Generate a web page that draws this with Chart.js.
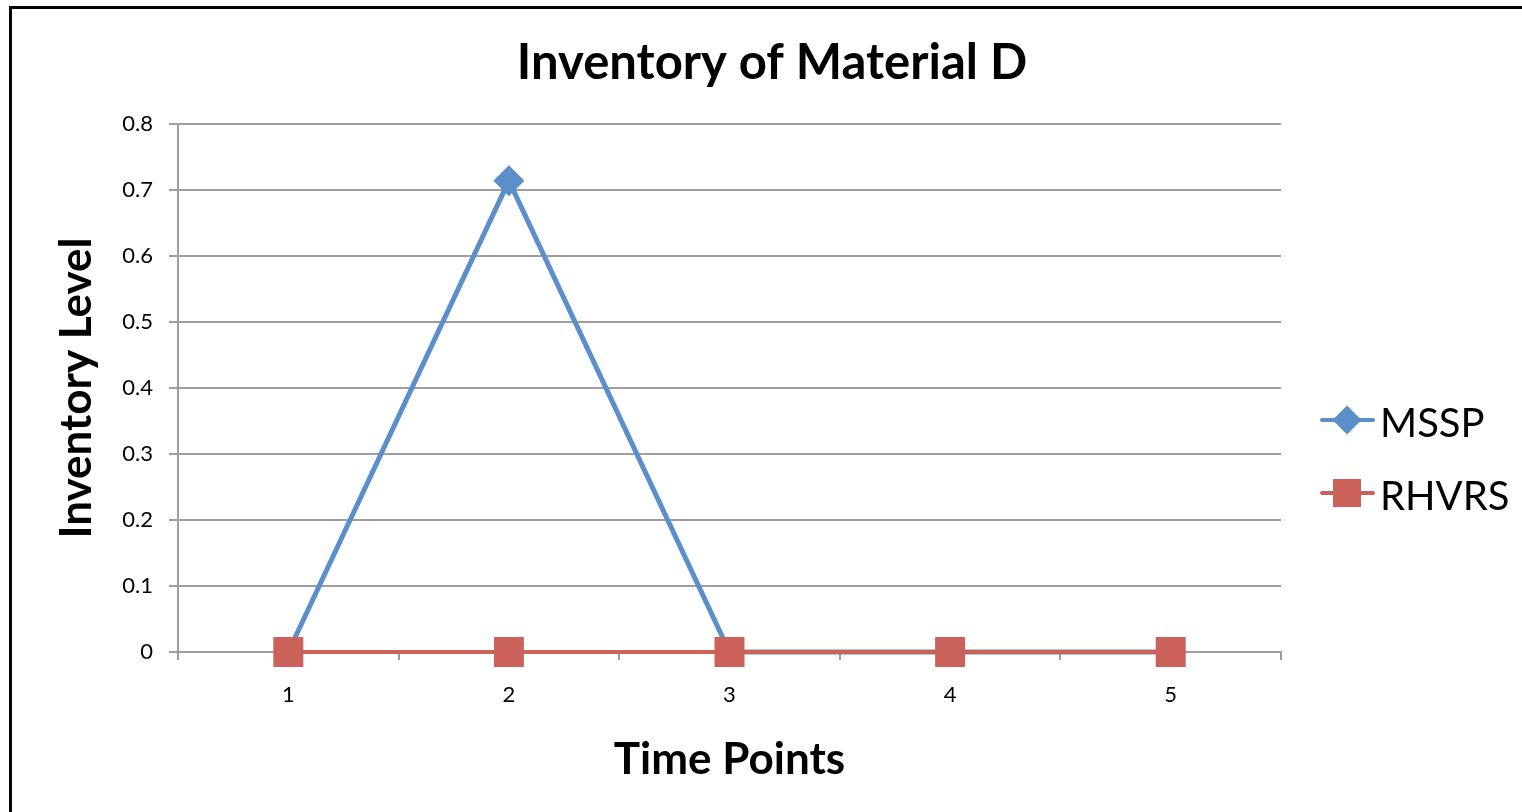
<!DOCTYPE html>
<html>
<head>
<meta charset="utf-8">
<title>Inventory of Material D</title>
<script src="https://cdn.jsdelivr.net/npm/chart.js@4.4.1/dist/chart.umd.min.js"></script>
<style>
  html, body { margin: 0; padding: 0; background: #fff; overflow: hidden; }
  #frame { position: absolute; left: 9px; top: 6px; width: 1600px; height: 900px;
           border-left: 3px solid #000; border-top: 3px solid #000; }
  #wrap { position: absolute; left: 0; top: 0; width: 1522px; height: 812px; }
</style>
</head>
<body>
<div id="frame"></div>
<div id="wrap"><canvas id="chart" width="1522" height="812"></canvas></div>
<script>
// ---- Chart data ----
const timePoints = ['1', '2', '3', '4', '5'];
const msspValues = [0, 0.714, 0, 0, 0];
const rhvrsValues = [0, 0, 0, 0, 0];
const yTickLabels = ['0', '0.1', '0.2', '0.3', '0.4', '0.5', '0.6', '0.7', '0.8'];

// ---- Look ----
const FONT = 'Lato, "Open Sans", sans-serif';
const blue = '#5B8FC9';
const red = '#CB625A';
const gridGray = '#9E9E9E';

// ---- Layout targets (pixels) ----
const plotLeft = 178;
const plotRight = 1281;
const plotBottom = 652;
const titleShift = 22;      // title sits a bit right of the canvas centre
const yTitleCenter = 77;
const axisTitleSize = 44;
const titleSize = 49;
let padRight = 0;
let padLeft = padRight + titleShift;

// Legend icon: line with marker through it, drawn on a small canvas
function makeLegendIcon(color, shape) {
  const c = document.createElement('canvas');
  c.width = 100; c.height = 40;
  const g = c.getContext('2d');
  const cx = 60, cy = 16;
  g.strokeStyle = color;
  g.lineWidth = 4;
  g.lineCap = 'round';
  g.beginPath(); g.moveTo(cx - 25, cy); g.lineTo(cx + 26, cy); g.stroke();
  g.fillStyle = color;
  if (shape === 'diamond') {
    g.beginPath();
    g.moveTo(cx, cy - 14.5); g.lineTo(cx + 14.5, cy);
    g.lineTo(cx, cy + 14.5); g.lineTo(cx - 14.5, cy);
    g.closePath(); g.fill();
  } else {
    g.fillRect(cx - 14, cy - 14, 28, 28);
  }
  return c;
}
const legendIcons = [makeLegendIcon(blue, 'diamond'), makeLegendIcon(red, 'square')];

const ctx = document.getElementById('chart').getContext('2d');
const chart = new Chart(ctx, {
  type: 'line',
  data: {
    labels: timePoints,
    datasets: [{
      label: 'MSSP',
      data: msspValues,
      borderColor: blue,
      backgroundColor: blue,
      borderWidth: 5,
      pointStyle: 'rectRot',
      pointRadius: 15.5,
      pointBackgroundColor: blue,
      pointBorderWidth: 0,
      tension: 0,
      clip: false,
      order: 1
    }, {
      label: 'RHVRS',
      data: rhvrsValues,
      borderColor: red,
      backgroundColor: red,
      borderWidth: 4,
      pointStyle: 'rect',
      pointRadius: 21.2,
      pointBackgroundColor: red,
      pointBorderWidth: 0,
      tension: 0,
      clip: false,
      order: 0   // drawn on top, like the reference
    }]
  },
  options: {
    responsive: false,
    devicePixelRatio: 1,
    animation: false,
    events: [],
    layout: { padding: { left: padLeft, right: padRight, top: 0, bottom: 0 } },
    plugins: {
      title: {
        display: true,
        text: 'Inventory of Material D',
        color: '#000',
        font: { family: FONT, size: titleSize, weight: 'bold' },
        padding: { top: 63 - titleSize * 0.6, bottom: 124 - 63 - titleSize * 0.6 }
      },
      legend: {
        position: 'right',
        maxWidth: 241,
        title: { display: true, text: '', font: { size: 10, lineHeight: 1 }, padding: { top: 99, bottom: 0 } },
        labels: {
          usePointStyle: true,
          pointStyleWidth: 46,
          padding: 33,
          color: '#000',
          font: { family: FONT, size: 40 },
          sort: function(a, b) { return a.datasetIndex - b.datasetIndex; },
          generateLabels: function(chart) {
            const items = Chart.defaults.plugins.legend.labels.generateLabels(chart);
            items.forEach(function(item) { item.pointStyle = legendIcons[item.datasetIndex]; });
            return items;
          }
        }
      },
      tooltip: { enabled: false }
    },
    scales: {
      x: {
        type: 'category',
        offset: true,
        grid: { display: true, drawOnChartArea: false, offset: true, color: gridGray, lineWidth: 2, tickLength: 8 },
        border: { display: true, color: gridGray, width: 2 },
        ticks: { color: '#000', font: { family: FONT, size: 22 }, padding: 22 },
        title: {
          display: true,
          text: 'Time Points',
          color: '#000',
          font: { family: FONT, size: axisTitleSize, weight: 'bold' },
          padding: { top: 0, bottom: 25.6 }
        },
        afterFit: function(scale) { scale.height = 812 - plotBottom; }
      },
      y: {
        min: 0,
        max: 0.8,
        grid: { color: gridGray, lineWidth: 2, tickLength: 9 },
        border: { display: true, color: gridGray, width: 2 },
        ticks: {
          stepSize: 0.1,
          color: '#000',
          padding: 16,
          font: { family: FONT, size: 22 },
          callback: function(value, index) { return yTickLabels[index]; }
        },
        title: {
          display: true,
          text: 'Inventory Level',
          color: '#000',
          font: { family: FONT, size: axisTitleSize, weight: 'bold' },
          padding: { top: yTitleCenter - axisTitleSize * 0.6 - padLeft, bottom: 0 }
        },
        afterFit: function(scale) { scale.width = plotLeft - padLeft; }
      }
    }
  }
});

// ---- Second pass: legend width depends on the font, so fix paddings once ----
const drift = chart.chartArea.right - plotRight;
if (Math.abs(drift) > 0.5) {
  padRight = Math.max(0, padRight + drift);
  padLeft = padRight + titleShift;
  chart.options.layout.padding = { left: padLeft, right: padRight, top: 0, bottom: 0 };
  chart.options.scales.y.title.padding = { top: yTitleCenter - axisTitleSize * 0.6 - padLeft, bottom: 0 };
  chart.update();
}
</script>
</body>
</html>
